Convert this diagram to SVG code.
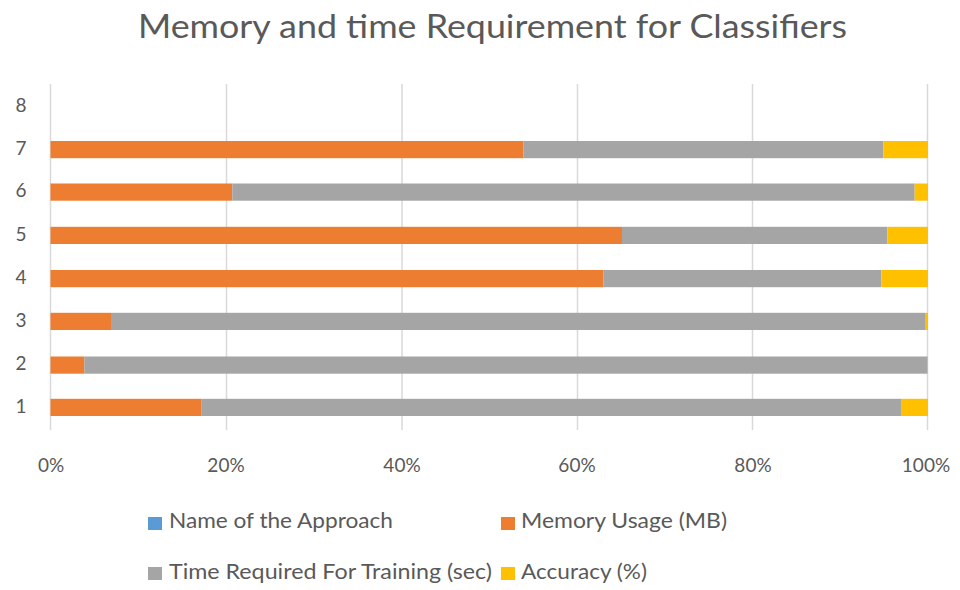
<svg xmlns="http://www.w3.org/2000/svg" width="960" height="590" viewBox="0 0 960 590">
  <style>
    .title { font-family: Lato, "Open Sans", "Liberation Sans", sans-serif; font-size: 32px; font-weight: 400; fill: #595959; }
    .axis { font-family: Lato, "Open Sans", "Liberation Sans", sans-serif; font-size: 19px; fill: #595959; }
    .legend { font-family: Lato, "Open Sans", "Liberation Sans", sans-serif; font-size: 21px; fill: #595959; }
    .grid { stroke: #D9D9D9; stroke-width: 1.5; }
    .mem { fill: #ED7D31; }
    .time { fill: #A5A5A5; }
    .acc { fill: #FFC000; }
    .name { fill: #5B9BD5; }
  </style>
  <rect width="960" height="590" fill="#FFFFFF"/>

  <text class="title" x="138" y="38" textLength="709" lengthAdjust="spacingAndGlyphs">Memory and time Requirement for Classifiers</text>

  <!-- vertical gridlines at 0..100% -->
  <g id="gridlines">
    <line class="grid" x1="50.5" y1="84" x2="50.5" y2="430"/>
    <line class="grid" x1="226.5" y1="84" x2="226.5" y2="430"/>
    <line class="grid" x1="402" y1="84" x2="402" y2="430"/>
    <line class="grid" x1="577.5" y1="84" x2="577.5" y2="430"/>
    <line class="grid" x1="752.5" y1="84" x2="752.5" y2="430"/>
    <line class="grid" x1="927.5" y1="84" x2="927.5" y2="430"/>
  </g>

  <!-- category labels -->
  <g id="y-labels" class="axis" text-anchor="middle">
    <text x="21" y="111.5">8</text>
    <text x="21" y="154.5">7</text>
    <text x="21" y="197">6</text>
    <text x="21" y="240.5">5</text>
    <text x="21" y="283.5">4</text>
    <text x="21" y="326.5">3</text>
    <text x="21" y="370">2</text>
    <text x="21" y="412.5">1</text>
  </g>

  <!-- percentage labels -->
  <g id="x-labels" class="axis" text-anchor="middle">
    <text x="51" y="472">0%</text>
    <text x="226" y="472">20%</text>
    <text x="402" y="472">40%</text>
    <text x="577" y="472">60%</text>
    <text x="753" y="472">80%</text>
    <text x="926" y="472">100%</text>
  </g>

  <!-- stacked bars -->
  <g id="bar-7">
    <rect class="mem" x="50.5" y="141" width="472.8" height="17.2"/>
    <rect class="time" x="523.3" y="141" width="360" height="17.2"/>
    <rect class="acc" x="883.3" y="141" width="44.7" height="17.2"/>
  </g>
  <g id="bar-6">
    <rect class="mem" x="50.5" y="183.5" width="181.8" height="17.2"/>
    <rect class="time" x="232.3" y="183.5" width="682.4" height="17.2"/>
    <rect class="acc" x="914.7" y="183.5" width="13.3" height="17.2"/>
  </g>
  <g id="bar-5">
    <rect class="mem" x="50.5" y="226.8" width="571.5" height="17.2"/>
    <rect class="time" x="622" y="226.8" width="265.3" height="17.2"/>
    <rect class="acc" x="887.3" y="226.8" width="40.7" height="17.2"/>
  </g>
  <g id="bar-4">
    <rect class="mem" x="50.5" y="270" width="552.8" height="17.2"/>
    <rect class="time" x="603.3" y="270" width="278" height="17.2"/>
    <rect class="acc" x="881.3" y="270" width="46.7" height="17.2"/>
  </g>
  <g id="bar-3">
    <rect class="mem" x="50.5" y="312.8" width="60.5" height="17.2"/>
    <rect class="time" x="111" y="312.8" width="814" height="17.2"/>
    <rect class="acc" x="925" y="312.8" width="3" height="17.2"/>
  </g>
  <g id="bar-2">
    <rect class="mem" x="50.5" y="356.5" width="33.8" height="17.2"/>
    <rect class="time" x="84.3" y="356.5" width="842.7" height="17.2"/>
    <rect class="acc" x="927" y="356.5" width="1" height="17.2"/>
  </g>
  <g id="bar-1">
    <rect class="mem" x="50.5" y="398.8" width="151.2" height="17.2"/>
    <rect class="time" x="201.7" y="398.8" width="700" height="17.2"/>
    <rect class="acc" x="901.7" y="398.8" width="26.3" height="17.2"/>
  </g>

  <!-- legend -->
  <g id="legend" class="legend">
    <g id="legend-name">
      <rect class="name" x="148" y="517" width="14" height="13"/>
      <text x="169" y="528" textLength="224" lengthAdjust="spacingAndGlyphs">Name of the Approach</text>
    </g>
    <g id="legend-memory">
      <rect class="mem" x="501" y="517" width="14" height="13"/>
      <text x="521" y="528" textLength="206" lengthAdjust="spacingAndGlyphs">Memory Usage (MB)</text>
    </g>
    <g id="legend-time">
      <rect class="time" x="148" y="567" width="14" height="13"/>
      <text x="169" y="579" textLength="323" lengthAdjust="spacingAndGlyphs">Time Required For Training (sec)</text>
    </g>
    <g id="legend-accuracy">
      <rect class="acc" x="501" y="567" width="14" height="13"/>
      <text x="521" y="579" textLength="126" lengthAdjust="spacingAndGlyphs">Accuracy (%)</text>
    </g>
  </g>
</svg>
